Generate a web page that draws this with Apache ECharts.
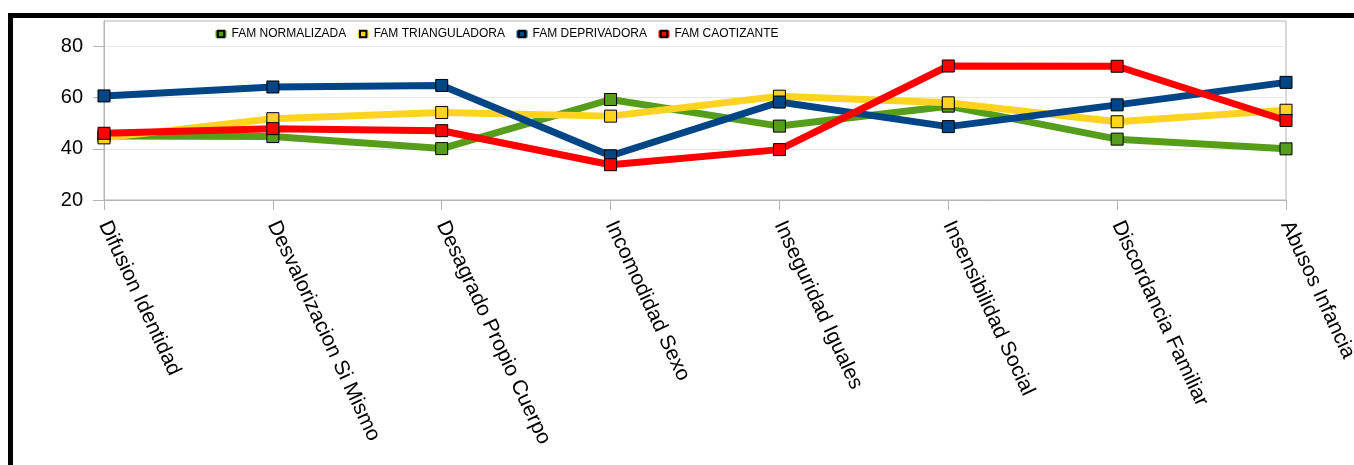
<!DOCTYPE html>
<html>
<head>
<meta charset="utf-8">
<script src="https://cdn.jsdelivr.net/npm/echarts@6/dist/echarts.min.js"></script>
<style>
html,body{margin:0;padding:0;background:#fff;}
#chart{width:1354px;height:465px;}
</style>
</head>
<body>
<div id="chart"></div>
<script>
const categories = ["Difusion Identidad","Desvalorizacion Si Mismo","Desagrado Propio Cuerpo","Incomodidad Sexo","Inseguridad Iguales","Insensibilidad Social","Discordancia Familiar","Abusos Infancia"];
const seriesNames = ["FAM NORMALIZADA","FAM TRIANGULADORA","FAM DEPRIVADORA","FAM CAOTIZANTE"];
const famNormalizada   = [45, 44.8, 40.1, 59.3, 48.9, 56.7, 43.8, 40];
const famTrianguladora = [44.3, 51.8, 54.2, 52.8, 60.6, 58.0, 50.6, 55.1];
const famDeprivadora   = [60.7, 64.2, 64.8, 37.3, 58.3, 48.7, 57.2, 66];
const famCaotizante    = [46.1, 47.9, 47.1, 33.8, 39.7, 72.4, 72.3, 51.1];
const yTicks = [20, 40, 60, 80];
const colors = ["#579D1C", "#FFD320", "#004586", "#FF0000"];

const allData = [famNormalizada, famTrianguladora, famDeprivadora, famCaotizante];
const chart = echarts.init(document.getElementById('chart'), null, {renderer:'canvas'});
const font = '"Liberation Sans", Arial, sans-serif';
chart.setOption({
  animation: false,
  backgroundColor: '#fff',
  color: colors,
  textStyle: {fontFamily: font},
  graphic: [
    {type:'rect', shape:{x:8, y:13, width:1346, height:5}, style:{fill:'#000'}, z:100},
    {type:'rect', shape:{x:8, y:13, width:5, height:452}, style:{fill:'#000'}, z:100}
  ],
  legend: {
    left: 207, top: 23,
    itemWidth: 11, itemHeight: 8, itemGap: 8,
    lineStyle: {width: 7},
    textStyle: {fontSize: 12, color: '#000', fontFamily: font},
    data: seriesNames
  },
  grid: {left: 104, right: 68, top: 21, bottom: 265, show: true, borderColor: '#b3b3b3', borderWidth: 1, containLabel: false, outerBoundsMode: 'none'},
  xAxis: {
    type: 'category', data: categories, boundaryGap: false,
    axisLine: {lineStyle: {color: '#b3b3b3'}},
    axisTick: {show: true, length: 10, lineStyle: {color: '#b3b3b3'}},
    axisLabel: {rotate: -65, fontSize: 21, color: '#000', margin: 22, fontFamily: font, interval: 0}
  },
  yAxis: {
    type: 'value', min: 20, max: 90, interval: 20,
    axisLine: {show: true, lineStyle: {color: '#b3b3b3'}},
    axisTick: {show: true, length: 11, lineStyle: {color: '#b3b3b3'}, customValues: yTicks},
    axisLabel: {fontSize: 20, color: '#000', margin: 21, fontFamily: font, customValues: yTicks},
    splitLine: {lineStyle: {color: '#e6e6e6'}}
  },
  series: allData.map((d, i) => ({
    name: seriesNames[i], type: 'line', data: d,
    symbol: 'rect', symbolSize: 12,
    lineStyle: {width: 7, color: colors[i]},
    itemStyle: {color: colors[i], borderColor: '#000', borderWidth: 1},
    emphasis: {disabled: true}
  }))
});
</script>
</body>
</html>
